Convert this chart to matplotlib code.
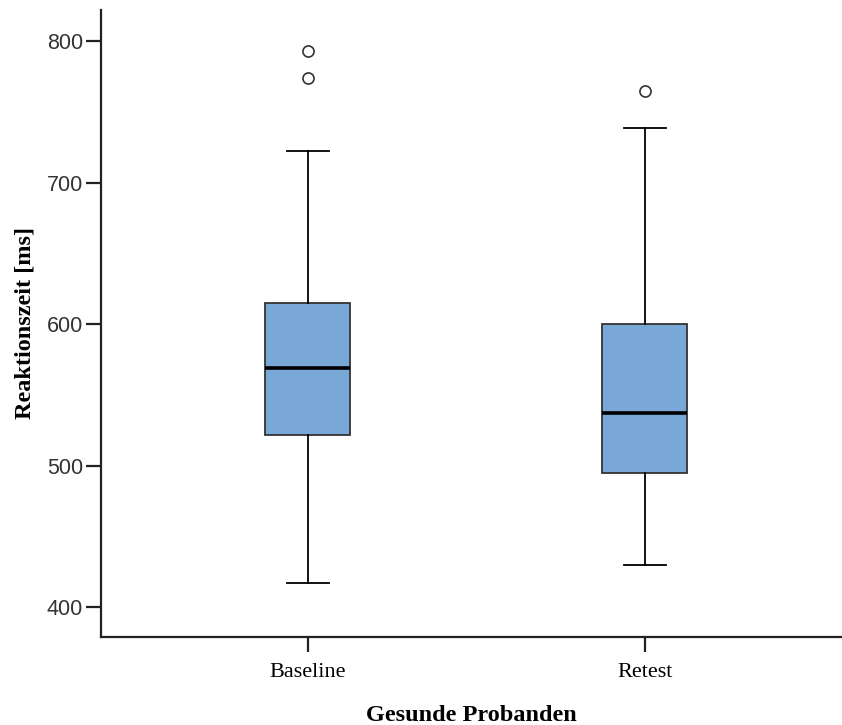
import matplotlib
matplotlib.use("Agg")
import matplotlib.pyplot as plt

# Werte (Reaktionszeit in ms)
groups = ["Baseline", "Retest"]
whisker_low = [417, 430]
q1 = [522, 495]
median = [569, 537]
q3 = [615, 600]
whisker_high = [722.5, 738.5]
outliers = [[793, 774], [765]]

stats = []
for i, name in enumerate(groups):
    stats.append({
        "label": name,
        "whislo": whisker_low[i],
        "q1": q1[i],
        "med": median[i],
        "q3": q3[i],
        "whishi": whisker_high[i],
        "fliers": outliers[i],
    })

fig = plt.figure(figsize=(8.42, 7.25), dpi=100)
ax = fig.add_axes([0.12, 0.1214, 0.88, 0.865])

ax.bxp(
    stats,
    positions=[0, 1],
    widths=0.252,
    patch_artist=True,
    boxprops=dict(facecolor="#79a7d6", edgecolor="#333333", linewidth=1.3),
    medianprops=dict(color="black", linewidth=2.6),
    whiskerprops=dict(color="black", linewidth=1.3),
    capprops=dict(color="black", linewidth=1.3),
    flierprops=dict(marker="o", markersize=8, markerfacecolor="white",
                    markeredgecolor="#333333", markeredgewidth=1.2),
)

ax.set_xlim(-0.614, 1.585)
ax.set_ylim(379, 822)
ax.set_yticks([400, 500, 600, 700, 800])

for side in ["top", "right"]:
    ax.spines[side].set_visible(False)
for side in ["left", "bottom"]:
    ax.spines[side].set_linewidth(1.6)
    ax.spines[side].set_color("#222222")

ax.tick_params(axis="both", length=11, width=1.6, color="#222222")
ax.tick_params(axis="y", labelsize=15.5, labelcolor="#333333", pad=2)
ax.tick_params(axis="x", labelsize=16, pad=8)
for lbl in ax.get_yticklabels():
    lbl.set_family("Liberation Sans")
ax.set_xticks([0, 1])
ax.set_xticklabels(groups, family="Liberation Serif")

ax.set_ylabel("Reaktionszeit [ms]", family="Liberation Serif", fontweight="bold",
              fontsize=17.5, labelpad=8)
ax.set_xlabel("Gesunde Probanden", family="Liberation Serif", fontweight="bold",
              fontsize=17.5, labelpad=16)

fig.savefig("out.png", dpi=100)
